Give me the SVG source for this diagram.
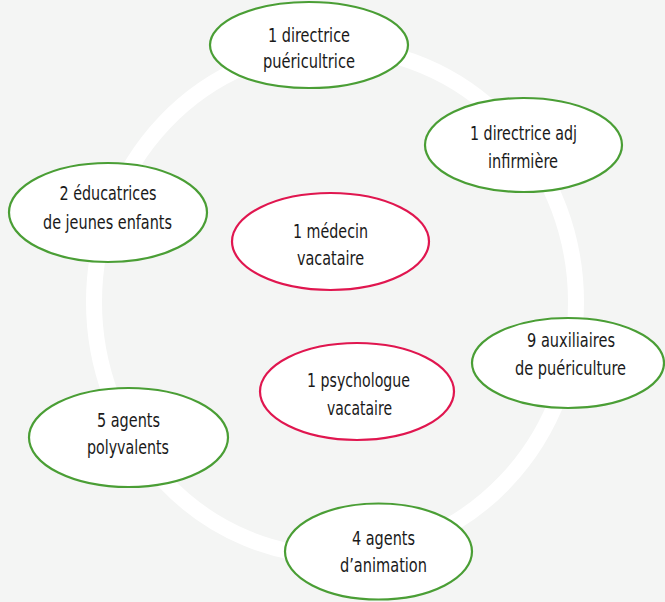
<svg xmlns="http://www.w3.org/2000/svg" width="665" height="602" viewBox="0 0 665 602">
<style>
.bg{fill:#f4f5f4}
.ring{fill:none;stroke:#ffffff;stroke-width:16}
.g{fill:#ffffff;stroke:#4a9e35;stroke-width:2.2}
.r{fill:#ffffff;stroke:#e0164f;stroke-width:2.2}
text{font-family:"Liberation Sans Narrow","DejaVu Sans Condensed","Liberation Sans",sans-serif;font-size:20px;fill:#1a1a1a;text-anchor:middle}
</style>
<rect class="bg" x="0" y="0" width="665" height="602"/>
<g id="connectors">
<ellipse class="ring" cx="335" cy="302" rx="241" ry="254"/>
</g>
<g id="n1">
<ellipse class="g" cx="309" cy="45" rx="99" ry="43"/>
<text x="309" y="41.5" textLength="82" lengthAdjust="spacingAndGlyphs">1 directrice</text>
<text x="309" y="68" textLength="92" lengthAdjust="spacingAndGlyphs">puéricultrice</text>
</g>
<g id="n2">
<ellipse class="g" cx="523.5" cy="145" rx="98.5" ry="47"/>
<text x="523.5" y="139.5" textLength="107" lengthAdjust="spacingAndGlyphs">1 directrice adj</text>
<text x="523" y="167.5" textLength="70" lengthAdjust="spacingAndGlyphs">infirmière</text>
</g>
<g id="n3">
<ellipse class="r" cx="330.5" cy="241.5" rx="98.5" ry="48.5"/>
<text x="330.5" y="237.5" textLength="75" lengthAdjust="spacingAndGlyphs">1 médecin</text>
<text x="330.5" y="265" textLength="67" lengthAdjust="spacingAndGlyphs">vacataire</text>
</g>
<g id="n4">
<ellipse class="g" cx="568" cy="363" rx="96" ry="45"/>
<text x="571" y="347" textLength="88" lengthAdjust="spacingAndGlyphs">9 auxiliaires</text>
<text x="570.5" y="375" textLength="111" lengthAdjust="spacingAndGlyphs">de puériculture</text>
</g>
<g id="n5">
<ellipse class="g" cx="378.5" cy="551.5" rx="93.5" ry="48"/>
<text x="383.5" y="545" textLength="63" lengthAdjust="spacingAndGlyphs">4 agents</text>
<text x="383.5" y="571.5" textLength="87" lengthAdjust="spacingAndGlyphs">d’animation</text>
</g>
<g id="n6">
<ellipse class="g" cx="108" cy="212.5" rx="99" ry="49.5"/>
<text x="108" y="199.5" textLength="97" lengthAdjust="spacingAndGlyphs">2 éducatrices</text>
<text x="107.5" y="228.5" textLength="129" lengthAdjust="spacingAndGlyphs">de jeunes enfants</text>
</g>
<g id="n7">
<ellipse class="g" cx="128.5" cy="437.5" rx="99.5" ry="49.5"/>
<text x="128.5" y="426.5" textLength="63" lengthAdjust="spacingAndGlyphs">5 agents</text>
<text x="128" y="454" textLength="82" lengthAdjust="spacingAndGlyphs">polyvalents</text>
</g>
<g id="n8">
<ellipse class="r" cx="357" cy="391.5" rx="97" ry="48.5"/>
<text x="358.5" y="386.5" textLength="103" lengthAdjust="spacingAndGlyphs">1 psychologue</text>
<text x="359.5" y="415" textLength="65" lengthAdjust="spacingAndGlyphs">vacataire</text>
</g>
</svg>
